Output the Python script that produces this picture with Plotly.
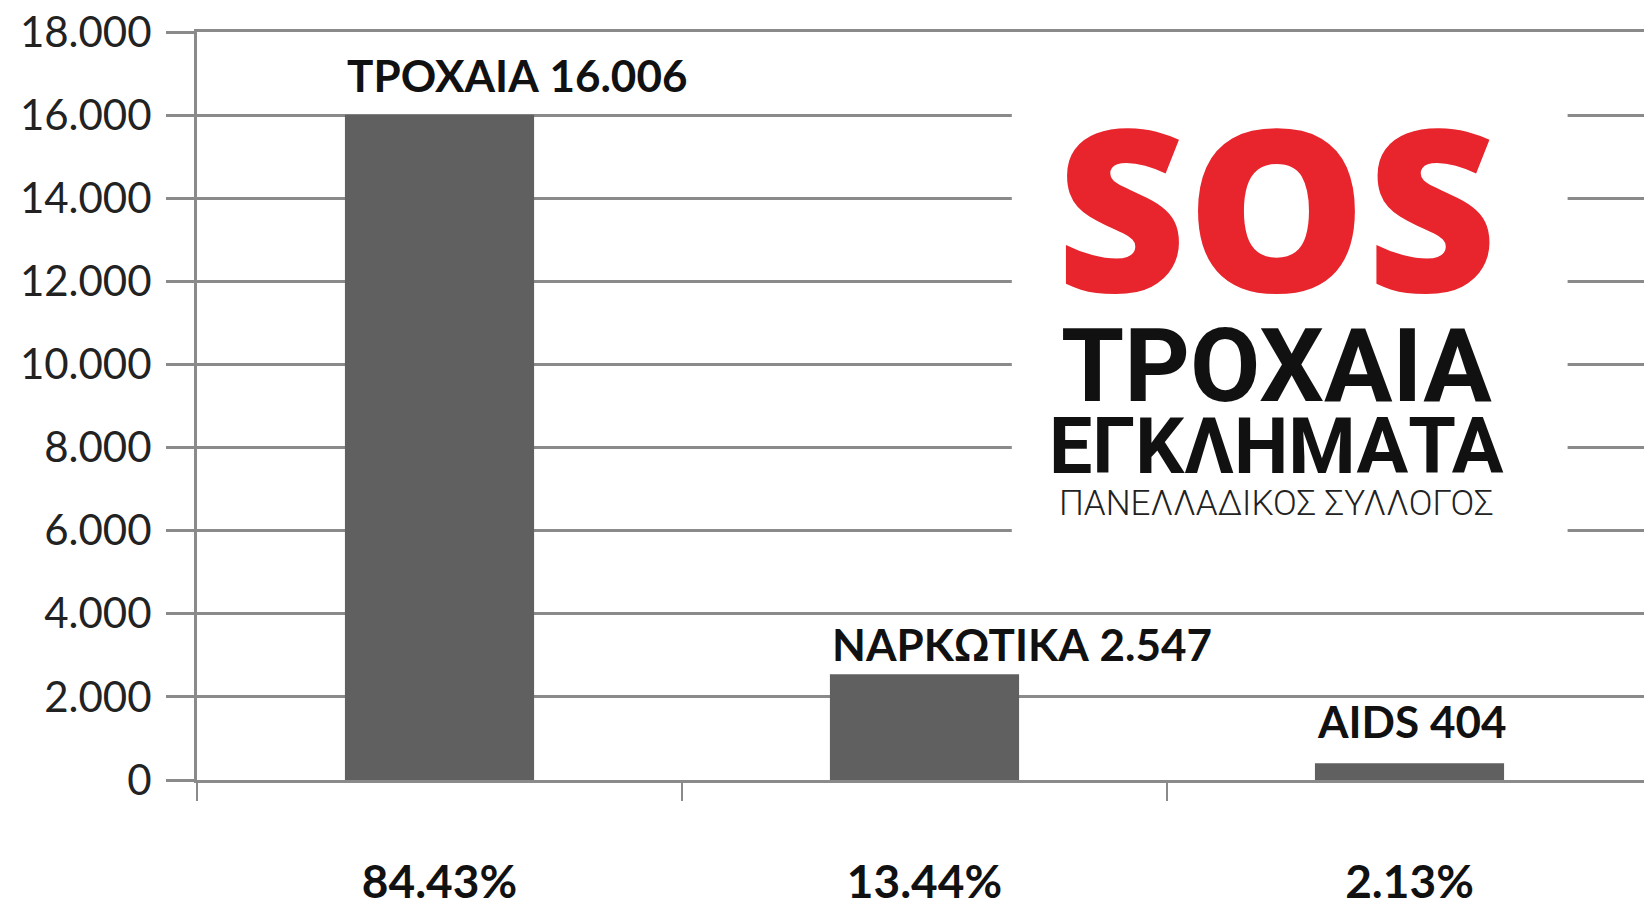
import plotly.graph_objects as go

# ---- data ----
categories = ["84.43%", "13.44%", "2.13%"]
names = ["ΤΡΟΧΑΙΑ", "ΝΑΡΚΩΤΙΚΑ", "AIDS"]
values = [16006, 2547, 404]
value_labels = ["16.006", "2.547", "404"]
y_tickvals = [0, 2000, 4000, 6000, 8000, 10000, 12000, 14000, 16000, 18000]
y_ticktext = ["0", "2.000", "4.000", "6.000", "8.000", "10.000", "12.000", "14.000", "16.000", "18.000"]

GRID = "#8a8a8a"
BAR = "#606060"
RED = "#e8242c"
LABEL_FONT = "Lato, 'Noto Sans', sans-serif"
NARROW = "Roboto, sans-serif"

bar_width = 0.39
label_yshift = [12, 2, 14]  # hand-placed label offsets (px) above each bar

fig = go.Figure()
fig.add_trace(go.Bar(
    x=categories, y=values, width=bar_width,
    marker=dict(color=BAR, line=dict(width=0)),
    hoverinfo="skip", showlegend=False,
))

annotations = []
for i, (n, v, vl) in enumerate(zip(names, values, value_labels)):
    annotations.append(dict(
        x=i - bar_width / 2, y=v, xref="x", yref="y",
        text=f"<b>{n} {vl}</b>", showarrow=False,
        xanchor="left", yanchor="bottom", yshift=label_yshift[i],
        font=dict(family=LABEL_FONT, size=44, color="#111111"),
    ))

# Logo (white box + texts)
logo_x = 0.742
annotations += [
    dict(x=logo_x, y=0.770, xref="paper", yref="paper", text="SOS",
         showarrow=False, xanchor="center", yanchor="middle",
         font=dict(family="'Noto Sans', Inter, sans-serif", size=226, color=RED, weight=900)),
    dict(x=logo_x, y=0.553, xref="paper", yref="paper", text="<b>ΤΡΟΧΑΙΑ</b>",
         showarrow=False, xanchor="center", yanchor="middle",
         font=dict(family=NARROW, size=102, color="#111111")),
    dict(x=logo_x, y=0.445, xref="paper", yref="paper", text="<b>ΕΓΚΛΗΜΑΤΑ</b>",
         showarrow=False, xanchor="center", yanchor="middle",
         font=dict(family=NARROW, size=77, color="#111111")),
    dict(x=logo_x, y=0.370, xref="paper", yref="paper", text="ΠΑΝΕΛΛΑΔΙΚΟΣ ΣΥΛΛΟΓΟΣ",
         showarrow=False, xanchor="center", yanchor="middle",
         font=dict(family=NARROW, size=35, color="#222222", weight=300)),
]

fig.update_layout(
    width=1652, height=906,
    margin=dict(l=189, r=8, t=24, b=134, autoexpand=False),
    paper_bgcolor="white", plot_bgcolor="white",
    annotations=annotations,
    shapes=[dict(type="rect", xref="paper", yref="paper", x0=0.56, x1=0.942, y0=0.30, y1=0.91,
                 fillcolor="white", line=dict(width=0), layer="above")],
    xaxis=dict(
        type="category", range=[-0.5, 2.5],
        tickvals=categories, ticktext=[f"<b>{c}</b>" for c in categories],
        tickson="boundaries",
        ticks="outside", ticklen=18, tickwidth=2, tickcolor=GRID,
        showline=True, mirror=True, linecolor=GRID, linewidth=3, showgrid=False, zeroline=False,
        ticklabelstandoff=60, automargin=False, ticklabeloverflow="allow",
        tickfont=dict(family=LABEL_FONT, size=46, color="#111111"),
        fixedrange=True,
    ),
    yaxis=dict(
        range=[0, 18000], tickmode="array", tickvals=y_tickvals, ticktext=y_ticktext,
        ticks="outside", ticklen=28, tickwidth=3, tickcolor=GRID,
        showline=True, linecolor=GRID, linewidth=3,
        showgrid=True, gridcolor=GRID, gridwidth=3, zeroline=False,
        ticklabelstandoff=6, automargin=False, ticklabeloverflow="allow",
        tickfont=dict(family=LABEL_FONT, size=42, color="#222222"),
        fixedrange=True,
    ),
)

fig.write_html("out.html")
